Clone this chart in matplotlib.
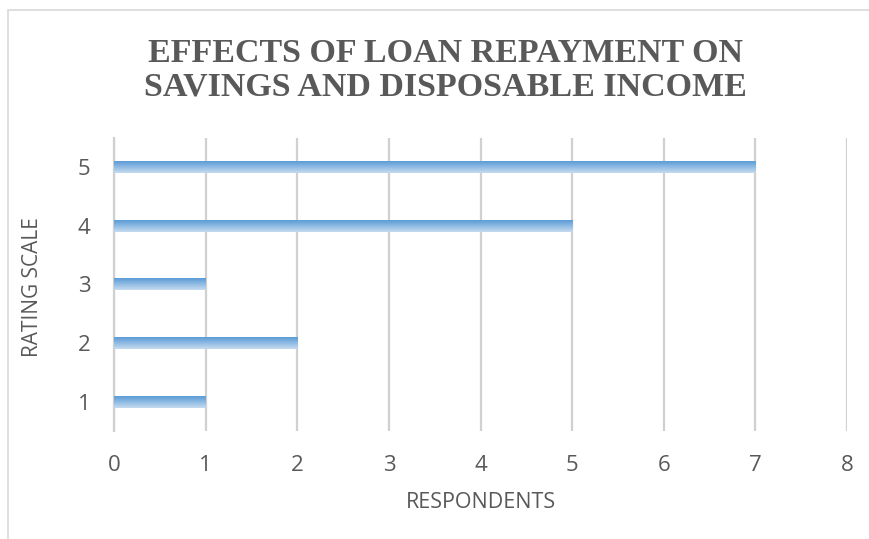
import numpy as np
import matplotlib.pyplot as plt
from matplotlib.patches import Rectangle

ratings = [1, 2, 3, 4, 5]
respondents = [1, 2, 1, 5, 7]
xticks = [0, 1, 2, 3, 4, 5, 6, 7, 8]

fig = plt.figure(figsize=(8.69, 5.39), dpi=100)
ax = fig.add_axes([114 / 869, 1 - 431 / 539, (847 - 114) / 869, (431 - 138) / 539])

# gradient fill for each bar, dark blue on top fading to light at bottom
top = np.array([0x5b, 0x9b, 0xd5]) / 255
bot = np.array([0xc5, 0xdb, 0xf0]) / 255
t = np.linspace(0, 1, 32)[:, None]
grad = (top * (1 - t) + bot * t)[:, None, :]
h = 0.2
for r, v in zip(ratings, respondents):
    ax.imshow(grad, extent=[0, v, r - h / 2, r + h / 2], aspect='auto',
              origin='upper', interpolation='bilinear', zorder=3)

ax.set_xlim(0, 8)
ax.set_ylim(0.5, 5.5)
ax.set_xticks(xticks)
ax.set_yticks(ratings)
ax.grid(axis='x', color='#d0d0d0', linewidth=1.6, zorder=0)
for s in ['top', 'right', 'bottom']:
    ax.spines[s].set_visible(False)
ax.spines['left'].set_color('#d0d0d0')
ax.spines['left'].set_linewidth(1.6)
ax.tick_params(length=0, labelsize=16, colors='#595959')
ax.tick_params(axis='y', pad=17)
ax.tick_params(axis='x', pad=17)
for lab in ax.get_xticklabels() + ax.get_yticklabels():
    lab.set_fontfamily('Open Sans')

ax.set_xlabel('RESPONDENTS', fontsize=15.5, color='#595959', family='Open Sans', labelpad=12)
fig.text(32 / 869, 1 - 287 / 539, 'RATING SCALE', rotation=90, ha='center', va='center',
         fontsize=15, color='#595959', family='Open Sans')

fig.text(445 / 869, 1 - 70 / 539, 'EFFECTS OF LOAN REPAYMENT ON\nSAVINGS AND DISPOSABLE INCOME',
         ha='center', va='center', fontsize=24.5, fontweight='bold', color='#595959',
         family='Liberation Serif', linespacing=1.12)

fig.patches.append(Rectangle((8 / 869, -0.1), 1.1, 1.1 - 10 / 539, transform=fig.transFigure,
                             fill=False, edgecolor='#d9d9d9', linewidth=1.2))

fig.savefig('out.png', dpi=100)
